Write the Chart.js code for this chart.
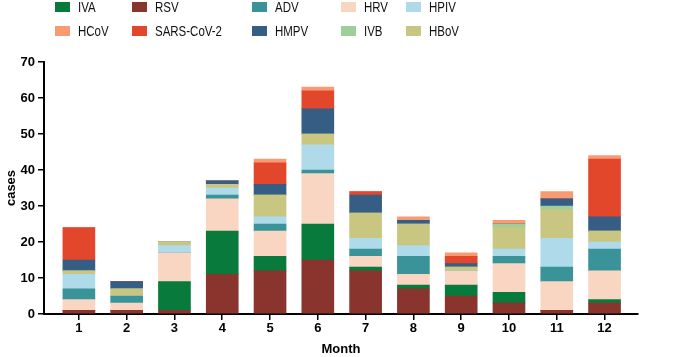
<!DOCTYPE html>
<html>
<head>
<meta charset="utf-8">
<script src="https://cdn.jsdelivr.net/npm/chart.js@4/dist/chart.umd.min.js"></script>
<style>
  html, body { margin: 0; padding: 0; background: #fff; }
  #wrap { position: relative; width: 685px; height: 357px; }
  #legend { position: absolute; left: 0; top: 0; width: 685px; height: 40px;
            font-family: 'Liberation Sans', Arial, sans-serif; font-size: 14px; color: #111; }
  .item { position: absolute; display: flex; align-items: center; height: 16px; white-space: nowrap; }
  .box { width: 15px; height: 10px; margin-right: 8px; }
  .txt { display: inline-block; transform: scaleX(0.82); transform-origin: left center; }
</style>
</head>
<body>
<div id="wrap">
  <canvas id="chart" width="685" height="357"></canvas>
  <div id="legend"></div>
</div>
<script>
const months = [1, 2, 3, 4, 5, 6, 7, 8, 9, 10, 11, 12];

// series, bottom of stack first
const rsv  = [1, 1, 1, 11, 12, 15, 12, 7, 5, 3, 1, 3];
const iva  = [0, 0, 8, 12, 4, 10, 1, 1, 3, 3, 0, 1];
const hrv  = [3, 2, 8, 9, 7, 14, 3, 3, 4, 8, 8, 8];
const adv  = [3, 2, 0, 1, 2, 1, 2, 5, 0, 2, 4, 6];
const hpiv = [4, 0, 2, 2, 2, 7, 3, 3, 0, 2, 8, 2];
const hbov = [1, 2, 1, 1, 6, 3, 7, 6, 1, 6, 8, 3];
const ivb  = [0, 0, 0, 0, 0, 0, 0, 0, 0, 1, 1, 0];
const hmpv = [3, 2, 0, 1, 3, 7, 5, 1, 1, 0, 2, 4];
const sars = [9, 0, 0, 0, 6, 5, 1, 0, 2, 0, 0, 16];
const hcov = [0, 0, 0, 0, 1, 1, 0, 1, 1, 1, 2, 1];

const yTicks = [0, 10, 20, 30, 40, 50, 60, 70];

const series = [
  { label: 'RSV', data: rsv, color: '#8a342e' },
  { label: 'IVA', data: iva, color: '#077a3c' },
  { label: 'HRV', data: hrv, color: '#f9d6c2' },
  { label: 'ADV', data: adv, color: '#3a9399' },
  { label: 'HPIV', data: hpiv, color: '#aedaea' },
  { label: 'HBoV', data: hbov, color: '#c9c682' },
  { label: 'IVB', data: ivb, color: '#9ccf9a' },
  { label: 'HMPV', data: hmpv, color: '#365d83' },
  { label: 'SARS-CoV-2', data: sars, color: '#e3472b' },
  { label: 'HCoV', data: hcov, color: '#f99b72' }
];

// legend (two rows of five)
const legendOrder = ['IVA', 'RSV', 'ADV', 'HRV', 'HPIV', 'HCoV', 'SARS-CoV-2', 'HMPV', 'IVB', 'HBoV'];
const colX = [55, 132, 252, 341, 406];
const rowY = [-1, 23];
const legendEl = document.getElementById('legend');
legendOrder.forEach((name, i) => {
  const s = series.find(d => d.label === name);
  const it = document.createElement('div');
  it.className = 'item';
  it.style.left = colX[i % 5] + 'px';
  it.style.top = rowY[Math.floor(i / 5)] + 'px';
  it.innerHTML = '<span class="box" style="background:' + s.color + '"></span><span class="txt">' + name + '</span>';
  legendEl.appendChild(it);
});

const font = { family: "'Liberation Sans', Arial, sans-serif", size: 13, weight: 'bold' };

new Chart(document.getElementById('chart').getContext('2d'), {
  type: 'bar',
  data: {
    labels: months,
    datasets: series.map(s => ({
      label: s.label,
      data: s.data,
      backgroundColor: s.color,
      borderWidth: 0,
      barThickness: 32
    }))
  },
  options: {
    responsive: false,
    animation: false,
    layout: { padding: { top: 62, right: 47, left: 0, bottom: 0 } },
    plugins: { legend: { display: false }, tooltip: { enabled: false } },
    scales: {
      x: {
        type: 'linear',
        stacked: true,
        offset: false,
        min: 0.27,
        max: 12.7,
        afterBuildTicks: s => { s.ticks = months.map(v => ({ value: v })); },
        afterFit: s => { s.height = 43; },
        grid: { display: true, offset: false, drawOnChartArea: false, drawTicks: true, tickLength: 6, color: '#000', lineWidth: 1.5 },
        border: { display: true, color: '#000', width: 2 },
        ticks: { color: '#000', font: font, padding: 1, maxRotation: 0 },
        title: { display: true, text: 'Month', color: '#000', font: font, padding: { top: 2, bottom: 0 } }
      },
      y: {
        stacked: true,
        min: 0,
        max: 70,
        afterBuildTicks: s => { s.ticks = yTicks.map(v => ({ value: v })); },
        afterFit: s => { s.width = 44; },
        grid: { display: true, drawOnChartArea: false, drawTicks: true, tickLength: 6, color: '#000', lineWidth: 1.5 },
        border: { display: true, color: '#000', width: 2 },
        ticks: { color: '#000', font: font, padding: 3 },
        title: { display: true, text: 'cases', color: '#000', font: font, padding: { top: 4, bottom: 4 } }
      }
    }
  }
});
</script>
</body>
</html>
